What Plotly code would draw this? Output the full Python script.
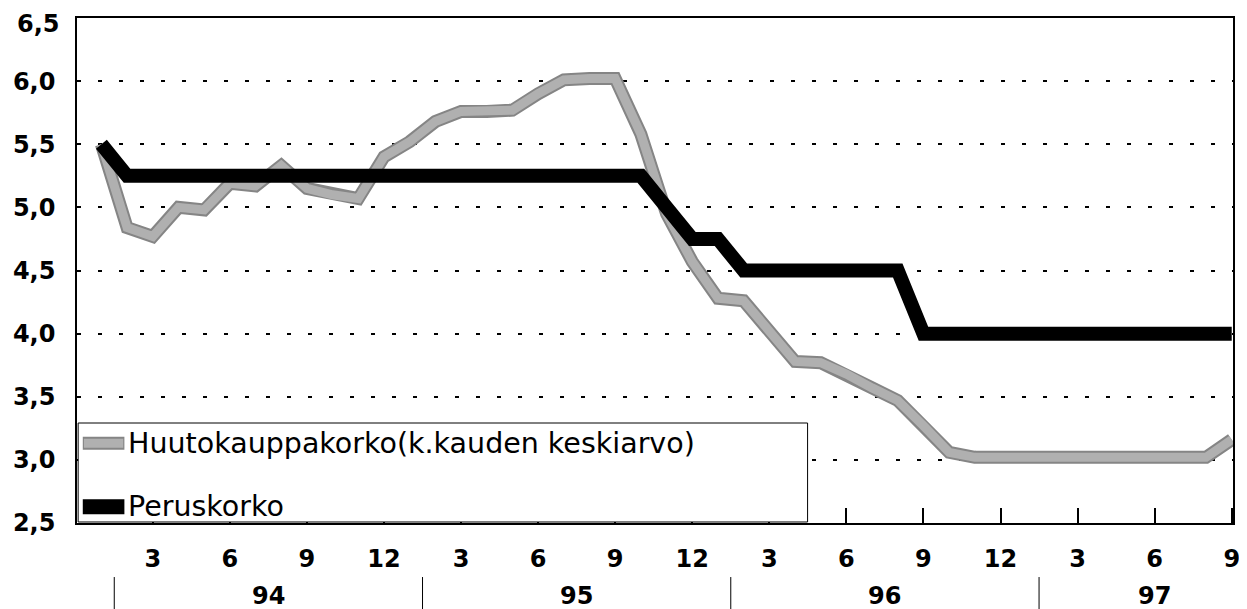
import plotly.graph_objects as go

# month index: 1 = first month of 94 ... 45 = month 9 of 97
months = list(range(1, 46))
huutokauppakorko = [5.50, 4.84, 4.77, 5.00, 4.98, 5.19, 5.17, 5.33, 5.15, 5.10,
                    5.07, 5.40, 5.52, 5.68, 5.76, 5.76, 5.77, 5.90, 6.01, 6.02,
                    6.02, 5.58, 4.95, 4.57, 4.28, 4.26, 4.02, 3.78, 3.77, 3.68,
                    3.57, 3.47, 3.27, 3.06, 3.02, 3.02, 3.02, 3.02, 3.02, 3.02,
                    3.02, 3.02, 3.02, 3.02, 3.16]
peruskorko = ([5.50] + [5.25] * 21 + [5.00, 4.75, 4.75] + [4.50] * 7 + [4.00] * 13)

x_tickvals = list(range(3, 46, 3))
x_ticktext = ["3", "6", "9", "12"] * 3 + ["3", "6", "9"]
y_tickvals = [2.5, 3.0, 3.5, 4.0, 4.5, 5.0, 5.5, 6.0]
y_ticktext = ["2,5", "3,0", "3,5", "4,0", "4,5", "5,0", "5,5", "6,0"]
y_top_value = 6.5
y_top_text = "6,5"
years = ["94", "95", "96", "97"]
year_centers = [7.5, 19.5, 31.5, 42.0]
year_separators = [1.5, 13.5, 25.5, 37.5]
legend_names = ["Huutokauppakorko(k.kauden keskiarvo)", "Peruskorko"]

GRAY_DARK = "#858585"
GRAY = "#b0b0b0"

fig = go.Figure()
fig.add_trace(go.Scatter(x=months, y=huutokauppakorko, mode="lines",
                         line=dict(color=GRAY_DARK, width=13), showlegend=False,
                         name=legend_names[0], hoverinfo="skip"))
fig.add_trace(go.Scatter(x=months, y=huutokauppakorko, mode="lines",
                         line=dict(color=GRAY, width=9), showlegend=False,
                         name=legend_names[0]))
fig.add_trace(go.Scatter(x=months, y=peruskorko, mode="lines",
                         line=dict(color="black", width=14), showlegend=False,
                         name=legend_names[1]))

tick_font = dict(family="DejaVu Sans", size=24, color="black", weight="bold")

fig.update_xaxes(range=[0.05, 45.05], tickvals=x_tickvals, ticktext=x_ticktext,
                 ticks="inside", ticklen=15, tickwidth=1.5, tickcolor="black",
                 showline=True, linecolor="black", linewidth=1.5, mirror=True,
                 showgrid=False, zeroline=False, tickfont=tick_font,
                 ticklabelstandoff=13, automargin=False)
fig.update_yaxes(range=[2.5, y_top_value], tickvals=y_tickvals, ticktext=y_ticktext,
                 ticks="", showline=True, linecolor="black", linewidth=1.5,
                 mirror=True, showgrid=True, gridcolor="black", gridwidth=1.5,
                 griddash="4px,17px", zeroline=False, tickfont=tick_font,
                 ticklabelstandoff=15, automargin=False)

shapes = []
annotations = []
# top y label (drawn as annotation so it is not hidden at the page edge)
annotations.append(dict(text="<b>%s</b>" % y_top_text, x=0, xref="paper",
                        xanchor="right", xshift=-15, y=1, yref="paper",
                        yanchor="middle", yshift=-6, showarrow=False,
                        font=tick_font))
# year separators and labels under the month labels
for xs in year_separators:
    shapes.append(dict(type="line", xref="x", yref="paper", x0=xs, x1=xs,
                       y0=-0.107, y1=-0.175, line=dict(color="black", width=1)))
for yr, xc in zip(years, year_centers):
    annotations.append(dict(text="<b>%s</b>" % yr, x=xc, xref="x", y=-0.145,
                            yref="paper", showarrow=False, xanchor="center",
                            yanchor="middle", font=tick_font))

# legend box
shapes.append(dict(type="rect", xref="paper", yref="paper", x0=0.001, x1=0.632,
                   y0=0.002, y1=0.198, fillcolor="white",
                   line=dict(color="black", width=1), layer="above"))
row_y = [0.158, 0.032]
shapes.append(dict(type="line", xref="paper", yref="paper", x0=0.005, x1=0.041,
                   y0=row_y[0], y1=row_y[0], line=dict(color=GRAY_DARK, width=13),
                   layer="above"))
shapes.append(dict(type="line", xref="paper", yref="paper", x0=0.006, x1=0.040,
                   y0=row_y[0], y1=row_y[0], line=dict(color=GRAY, width=9),
                   layer="above"))
shapes.append(dict(type="line", xref="paper", yref="paper", x0=0.005, x1=0.041,
                   y0=row_y[1], y1=row_y[1], line=dict(color="black", width=15),
                   layer="above"))
for name, ry in zip(legend_names, row_y):
    annotations.append(dict(text=name, x=0.042, xref="paper", y=ry, yref="paper",
                            showarrow=False, xanchor="left", yanchor="middle",
                            font=dict(family="DejaVu Sans", size=28.5, color="black")))

# page body adds an 8px offset, so the figure is sized to fit the window
fig.update_layout(width=1239, height=601, margin=dict(l=69, r=14, t=10, b=86),
                  plot_bgcolor="white", paper_bgcolor="white",
                  shapes=shapes, annotations=annotations,
                  font=dict(family="DejaVu Sans", color="black"))

fig.write_html("out.html")
